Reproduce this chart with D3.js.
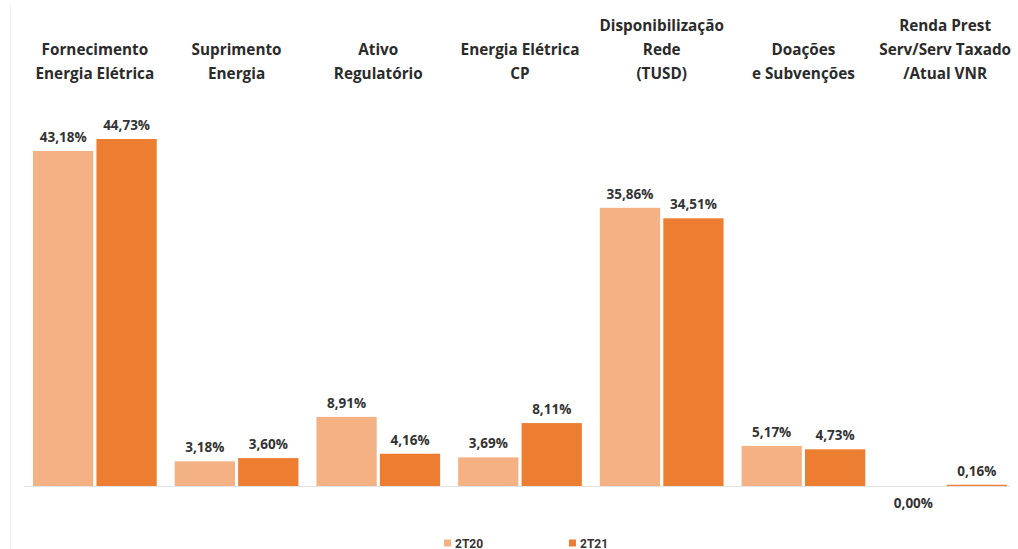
<!DOCTYPE html>
<html>
<head>
<meta charset="utf-8">
<script src="https://cdn.jsdelivr.net/npm/d3@7"></script>
<style>
  html, body { margin: 0; padding: 0; background: #fff; }
  svg { display: block; font-family: "Open Sans", "Noto Sans", sans-serif; }
</style>
</head>
<body>
<svg id="chart" width="1018" height="549"></svg>
<script>
// Revenue composition by line item, share of total (%)
const categories = [
  "Fornecimento|Energia Elétrica",
  "Suprimento|Energia",
  "Ativo|Regulatório",
  "Energia Elétrica|CP",
  "Disponibilização|Rede|(TUSD)",
  "Doações|e Subvenções",
  "Renda Prest|Serv/Serv Taxado|/Atual VNR"
];
const seriesNames = ["2T20", "2T21"];
const values2T20 = [43.18, 3.18, 8.91, 3.69, 35.86, 5.17, 0.00];
const values2T21 = [44.73, 3.60, 4.16, 8.11, 34.51, 4.73, 0.16];
const colors = ["#F4B183", "#ED7D31"];

const svg = d3.select("#chart");
const baseY = 486;

const x = d3.scaleBand()
  .domain(categories)
  .range([24, 1016])
  .paddingInner(0)
  .paddingOuter(0);

const inner = d3.scaleBand()
  .domain(seriesNames)
  .range([9, x.bandwidth() - 9])
  .paddingInner(0.05);

const y = d3.scaleLinear()
  .domain([0, 44.73])
  .range([baseY, 139]);

const fmt = v => v.toFixed(2).replace(".", ",") + "%";

// faint frame line on the left
svg.append("line")
  .attr("x1", 10.5).attr("x2", 10.5)
  .attr("y1", 5).attr("y2", 549)
  .attr("stroke", "#f0f0f0").attr("stroke-width", 1);

// category labels, bottom-aligned above the plot
const labels = svg.append("g");
categories.forEach(c => {
  const lines = c.split("|");
  const cx = x(c) + x.bandwidth() / 2;
  const t = labels.append("text")
    .attr("text-anchor", "middle")
    .attr("font-size", 15.3)
    .attr("font-weight", 700)
    .attr("fill", "#2b2b2b");
  lines.forEach((ln, i) => {
    t.append("tspan")
      .attr("x", cx)
      .attr("y", 79 - (lines.length - 1 - i) * 24)
      .text(ln);
  });
});

// baseline
svg.append("line")
  .attr("x1", 24).attr("x2", 1010)
  .attr("y1", baseY + 0.5).attr("y2", baseY + 0.5)
  .attr("stroke", "#e3e3e3").attr("stroke-width", 1);

const data = categories.map((c, i) => ({
  cat: c,
  vals: [
    { s: seriesNames[0], v: values2T20[i], color: colors[0] },
    { s: seriesNames[1], v: values2T21[i], color: colors[1] }
  ]
}));

const groups = svg.append("g").selectAll("g")
  .data(data)
  .join("g")
  .attr("transform", d => `translate(${x(d.cat)},0)`);

groups.selectAll("rect")
  .data(d => d.vals)
  .join("rect")
  .attr("x", d => inner(d.s))
  .attr("width", inner.bandwidth())
  .attr("y", d => y(d.v))
  .attr("height", d => Math.max(0, baseY - y(d.v)))
  .attr("fill", d => d.color);

groups.selectAll("text.val")
  .data(d => d.vals)
  .join("text")
  .attr("class", "val")
  .attr("x", d => inner(d.s) + inner.bandwidth() / 2)
  .attr("y", d => d.v === 0 ? baseY + 22 : y(d.v) - 9)
  .attr("text-anchor", "middle")
  .attr("font-size", 13.5)
  .attr("font-weight", 700)
  .attr("fill", "#333")
  .text(d => fmt(d.v));

// legend
const legend = svg.append("g");
const legendX = [444, 569];
seriesNames.forEach((s, i) => {
  legend.append("rect")
    .attr("x", legendX[i]).attr("y", 539.5)
    .attr("width", 7).attr("height", 7)
    .attr("fill", colors[i]);
  legend.append("text")
    .attr("x", legendX[i] + 11).attr("y", 547.5)
    .attr("font-size", 12)
    .attr("font-weight", 700)
    .attr("font-family", "'Liberation Sans Narrow', 'Roboto', sans-serif")
    .attr("fill", "#333")
    .text(s);
});
</script>
</body>
</html>
